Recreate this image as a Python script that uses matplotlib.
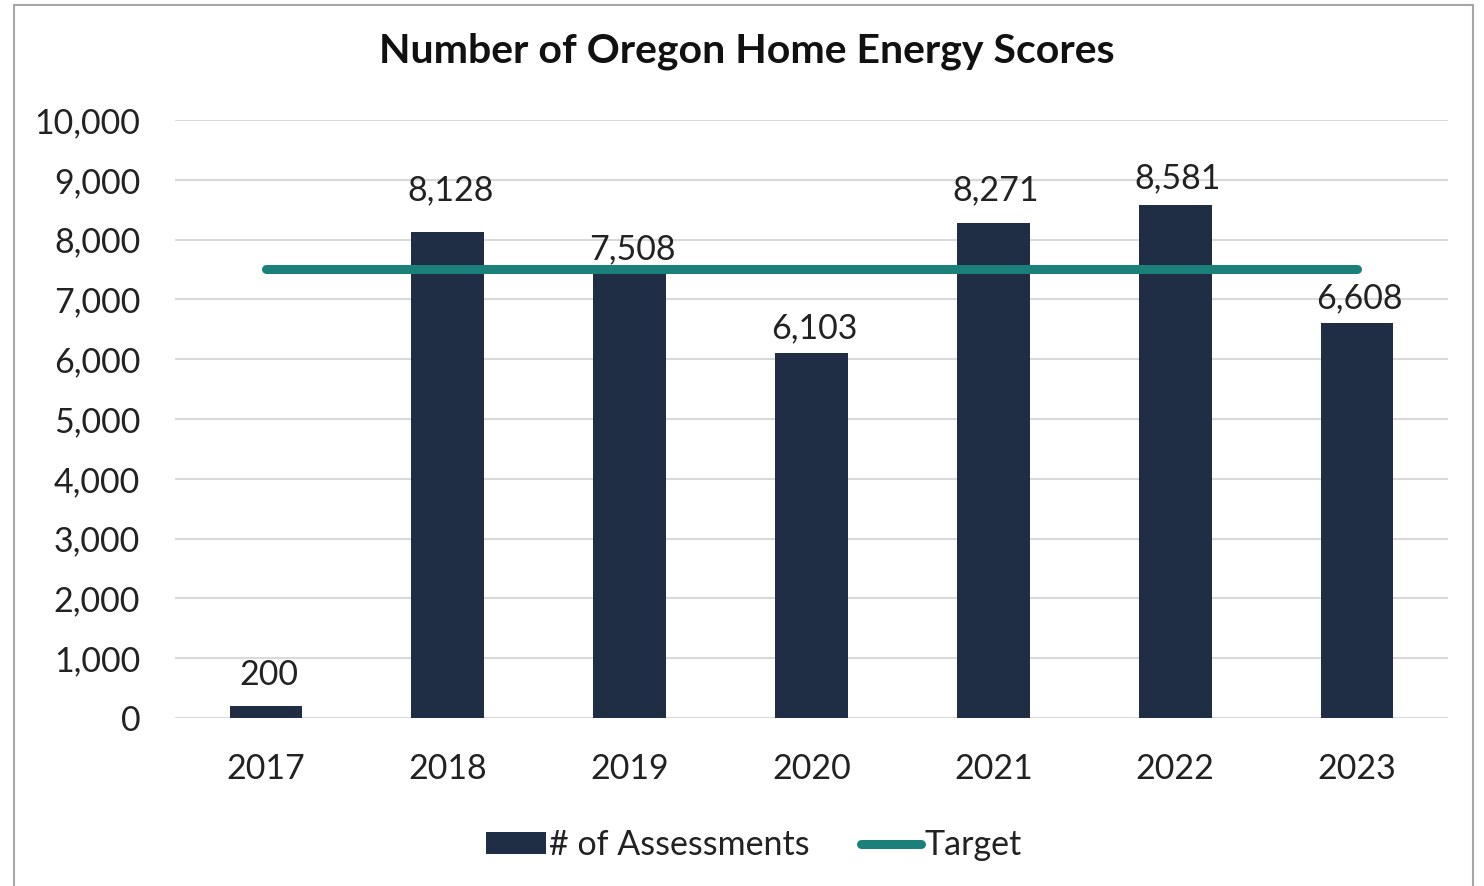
import matplotlib.pyplot as plt
from matplotlib.patches import Rectangle

plt.rcParams['font.family'] = ['Lato', 'DejaVu Sans']

years = ['2017', '2018', '2019', '2020', '2021', '2022', '2023']
assessments = [200, 8128, 7508, 6103, 8271, 8581, 6608]
target = [7500, 7500, 7500, 7500, 7500, 7500, 7500]

bar_color = '#1F2D45'
line_color = '#1A8079'
# label offset above bar top (points), as placed in the original
label_gap = [22, 30, 14, 18, 24, 19, 18]

fig = plt.figure(figsize=(14.84, 8.86), dpi=100)
ax = fig.add_axes([0.1179, 0.1896, 0.8578, 0.675])

x = list(range(len(years)))
ax.bar(x, assessments, width=0.4, color=bar_color, label='# of Assessments', zorder=2)
ax.plot(x, target, color=line_color, lw=6.5, solid_capstyle='round', label='Target', zorder=3)
for i, v in enumerate(assessments):
    ax.annotate(f'{v:,}', (i, v), xytext=(2, label_gap[i]), textcoords='offset points',
                ha='center', va='center', fontsize=24.5, color='#222222', zorder=4)

ax.set_xlim(-0.5, 6.5)
ax.set_ylim(0, 10000)
ax.set_yticks(range(0, 10001, 1000))
ax.set_yticklabels([f'{v:,}' for v in range(0, 10001, 1000)])
ax.set_xticks(x)
ax.set_xticklabels(years)
ax.tick_params(axis='both', length=0, labelsize=24.5, labelcolor='#222222')
ax.tick_params(axis='y', pad=25)
ax.tick_params(axis='x', pad=25)
ax.grid(axis='y', color='#D9D9D9', lw=1.5, zorder=0)
ax.set_axisbelow(True)
for s in ax.spines.values():
    s.set_visible(False)

fig.text(0.503, 0.942, 'Number of Oregon Home Energy Scores', ha='center', va='center',
         fontsize=29.5, fontweight='bold', color='#111111')

h, l = ax.get_legend_handles_labels()
leg = fig.legend(h[::-1], l[::-1], loc='center', bbox_to_anchor=(0.508, 0.046), ncol=2,
                 frameon=False, fontsize=24.5, handlelength=1.75, handleheight=0.6,
                 handletextpad=0.1, columnspacing=1.5)
for t in leg.get_texts():
    t.set_color('#222222')

fig.patches.append(Rectangle((14 / 1484, -0.05), 1459 / 1484, 0.05 + 881 / 886,
                             transform=fig.transFigure, fill=False, edgecolor='#A6A6A6', lw=1.5))

fig.savefig('out.png', dpi=100)
